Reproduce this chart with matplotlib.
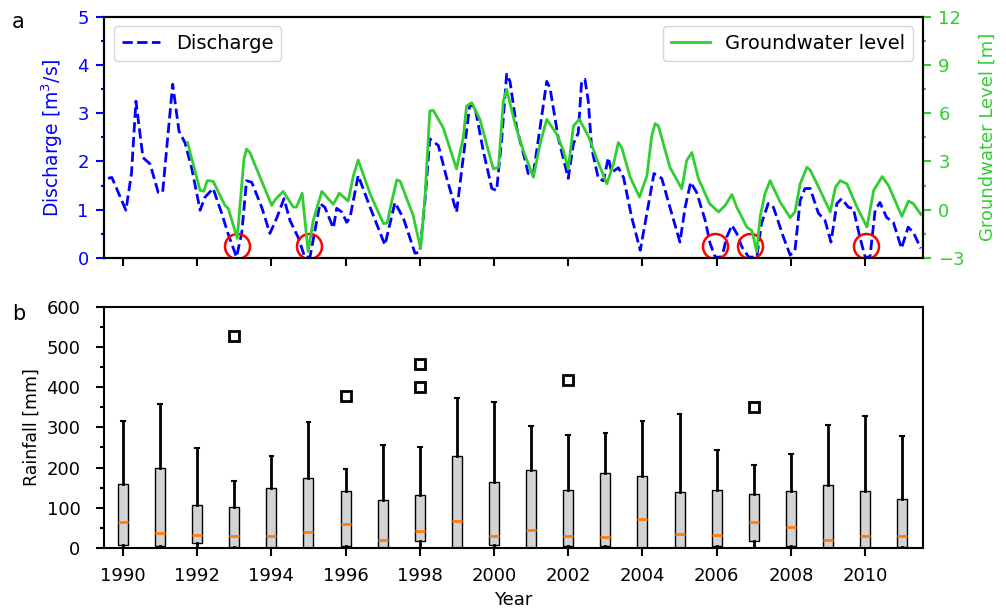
import numpy as np
import matplotlib
matplotlib.use("Agg")
from matplotlib import pyplot as plt

# discharge [m3/s]
q_t = [1989.6, 1989.7, 1990.08, 1990.23, 1990.35, 1990.54, 1990.73, 1990.95, 1991.07, 1991.18,
       1991.34, 1991.51, 1991.67, 1991.85, 1992.08, 1992.21, 1992.43, 1992.66, 1992.83, 1993.06,
       1993.2, 1993.33, 1993.47, 1993.74, 1993.96, 1994.14, 1994.34, 1994.5, 1994.72, 1994.9,
       1995.04, 1995.31, 1995.44, 1995.67, 1995.76, 1995.9, 1996.03, 1996.12, 1996.34, 1996.66,
       1997.06, 1997.33, 1997.56, 1997.87, 1998.0, 1998.14, 1998.27, 1998.5, 1998.72, 1998.99,
       1999.17, 1999.35, 1999.49, 1999.71, 1999.94, 2000.07, 2000.21, 2000.34, 2000.43, 2000.61,
       2000.84, 2000.92, 2001.06, 2001.24, 2001.42, 2001.51, 2001.73, 2002.0, 2002.14, 2002.27,
       2002.36, 2002.45, 2002.54, 2002.63, 2002.81, 2002.95, 2003.08, 2003.17, 2003.35, 2003.49,
       2003.71, 2003.94, 2004.12, 2004.31, 2004.52, 2004.74, 2005.01, 2005.15, 2005.3, 2005.46,
       2005.69, 2005.82, 2005.96, 2006.14, 2006.27, 2006.41, 2006.54, 2006.68, 2006.86, 2007.08,
       2007.21, 2007.39, 2007.53, 2007.8, 2007.98, 2008.11, 2008.25, 2008.38, 2008.52, 2008.74,
       2008.92, 2009.08, 2009.24, 2009.37, 2009.55, 2009.68, 2009.86, 2010.0, 2010.13, 2010.27,
       2010.4, 2010.58, 2010.76, 2010.98, 2011.16, 2011.3, 2011.5]
q_v = [1.65, 1.67, 0.99, 1.75, 3.25, 2.08, 1.95, 1.36, 1.36, 2.28,
       3.6, 2.63, 2.39, 1.87, 0.99, 1.26, 1.44, 0.93, 0.51, 0.02,
       0.51, 1.6, 1.57, 1.05, 0.51, 0.82, 1.23, 0.78, 0.43, 0.02,
       0.02, 1.13, 1.05, 0.62, 1.03, 0.95, 0.74, 0.84, 1.71, 1.05,
       0.27, 1.15, 0.82, 0.1, 0.12, 1.19, 2.47, 2.33, 1.67, 0.95,
       2.08, 3.19, 3.11, 2.22, 1.44, 1.4, 2.49, 3.81, 3.66, 2.7,
       2.02, 1.75, 1.75, 2.7, 3.66, 3.52, 2.49, 1.65, 2.37, 2.59,
       3.66, 3.7, 3.25, 2.28, 1.65, 1.6, 2.08, 1.77, 1.87, 1.67,
       0.84, 0.16, 0.93, 1.75, 1.65, 1.05, 0.33, 1.05, 1.57, 1.36,
       0.78, 0.31, 0.02, 0.02, 0.43, 0.68, 0.51, 0.23, 0.02, 0.02,
       0.72, 1.13, 1.05, 0.43, 0.06, 0.16, 1.19, 1.44, 1.44, 0.93,
       0.78, 0.33, 1.13, 1.23, 1.05, 1.03, 0.43, 0.02, 0.02, 0.99,
       1.15, 0.84, 0.74, 0.2, 0.64, 0.53, 0.2]

# groundwater level [m]
g_t = [1991.74, 1992.08, 1992.18, 1992.27, 1992.43, 1992.75, 1992.84, 1993.08, 1993.26, 1993.33,
       1993.42, 1994.01, 1994.1, 1994.32, 1994.59, 1994.68, 1994.83, 1994.99, 1995.13, 1995.36,
       1995.67, 1995.83, 1996.07, 1996.21, 1996.34, 1996.66, 1997.02, 1997.12, 1997.24, 1997.38,
       1997.47, 1997.82, 1998.02, 1998.14, 1998.27, 1998.36, 1998.63, 1998.99, 1999.17, 1999.26,
       1999.4, 1999.62, 1999.98, 2000.12, 2000.25, 2000.34, 2000.57, 2000.79, 2001.06, 2001.24,
       2001.42, 2001.69, 2001.87, 2002.0, 2002.14, 2002.3, 2002.54, 2002.77, 2003.04, 2003.22,
       2003.35, 2003.44, 2003.67, 2003.92, 2004.12, 2004.25, 2004.34, 2004.43, 2004.74, 2005.06,
       2005.19, 2005.33, 2005.51, 2005.81, 2006.05, 2006.23, 2006.41, 2006.54, 2006.81, 2006.95,
       2007.08, 2007.17, 2007.3, 2007.44, 2007.71, 2007.98, 2008.11, 2008.25, 2008.43, 2008.52,
       2008.79, 2009.06, 2009.2, 2009.33, 2009.51, 2009.78, 2010.05, 2010.23, 2010.46, 2010.63,
       2010.99, 2011.17, 2011.3, 2011.5]
g_v = [4.18, 1.2, 1.16, 1.81, 1.77, 0.27, 0.07, -1.78, 3.15, 3.77,
       3.56, 0.27, 0.62, 1.14, 0.17, 0.17, 1.03, -2.6, -0.65, 1.14,
       0.33, 1.03, 0.54, 2.12, 3.09, 0.99, -0.86, -0.82, 0.48, 1.86,
       1.77, -0.35, -2.4, 0.79, 6.14, 6.18, 5.1, 2.54, 4.49, 6.44,
       6.65, 5.62, 2.54, 2.64, 6.75, 7.48, 5.31, 3.67, 2.02, 4.08,
       5.62, 4.7, 3.67, 2.54, 5.21, 5.62, 4.59, 3.15, 1.61, 2.85,
       4.18, 3.87, 2.02, 0.79, 2.12, 4.59, 5.35, 5.21, 2.64, 1.3,
       3.05, 3.56, 1.92, 0.38, -0.14, 0.27, 0.95, 0.17, -1.07, -1.31,
       -2.61, -0.45, 0.99, 1.81, 0.48, -0.49, -0.14, 1.61, 2.64, 2.47,
       1.2, -0.14, 1.4, 1.81, 1.61, 0.17, -1.07, 1.2, 2.06, 1.51,
       -0.41, 0.54, 0.38, -0.28]

# low-flow events marked with red circles
low_t = [1993.07, 1995.01, 2005.96, 2006.9, 2010.03]
low_v = [0.25, 0.25, 0.25, 0.25, 0.25]

# rainfall box statistics per year [mm]
years = list(range(1990, 2012))
r_whislo = [0, 0, 0, 0, 0, 0, 0, 0, 0, 0, 0, 0, 0, 0, 0, 0, 0, 0, 0, 0, 0, 0]
r_q1 = [7.5, 6, 11.6, 3, 1, 0, 4, 1, 16.6, 0, 7.5, 0, 4, 4, 0, 0, 4, 17.4, 6, 0, 0, 3]
r_med = [64, 36.5, 31.5, 29, 29, 40.6, 59, 19, 41.5, 67, 30, 45.6, 30.7, 26.6, 71, 35.7,
         31.5, 65, 52, 21, 30, 30]
r_q3 = [158.5, 198, 107, 102, 148, 173.5, 143, 120, 132, 230, 165, 193, 144, 187, 180, 139,
        144, 135, 141, 157, 143, 121]
r_whishi = [317, 359, 249, 167, 228, 314, 197, 255, 252, 372, 363, 304, 282, 285, 317, 332,
            244, 207, 234, 305, 329, 278]
r_fliers = [[], [], [], [528], [], [], [379], [], [458, 401], [], [], [], [417], [], [], [],
            [], [351], [], [], [], []]

fig = plt.figure(figsize=(10.06, 6.13), dpi=100)
ax1 = fig.add_axes([0.1034, 0.5791, 0.8141, 0.3937])
ax2 = ax1.twinx()
ax3 = fig.add_axes([0.1034, 0.106, 0.8141, 0.3937])

blue = '#0000ff'
green = '#32cd32'
xlim = (1989.49, 2011.56)

ax1.plot(q_t, q_v, '--', color=blue, lw=2, label='Discharge')
ax1.plot(low_t, low_v, 'o', ms=18, mfc='none', mec='red', mew=1.8, zorder=5)
ax2.plot(g_t, g_v, '-', color=green, lw=2, label='Groundwater level')

ax1.set_xlim(*xlim)
ax1.set_ylim(0, 5)
ax2.set_ylim(-3, 12)
ax1.set_yticks(np.arange(0, 5.1, 1))
ax1.set_yticks(np.arange(0, 5.1, 0.5), minor=True)
ax2.set_yticks(np.arange(-3, 12.1, 3))
ax2.set_yticks(np.arange(-3, 12.1, 1.5), minor=True)
ax1.set_xticks(range(1990, 2011, 2))
ax1.set_xticklabels([])
ax1.set_ylabel('Discharge [m$^3$/s]', color=blue, fontsize=13.5, labelpad=9)
ax2.set_ylabel('Groundwater Level [m]', color=green, fontsize=13, labelpad=10)
ax1.tick_params(axis='y', which='both', colors=blue, labelsize=13, width=1.5, pad=5)
ax1.tick_params(axis='y', which='major', length=6)
ax2.tick_params(axis='y', which='both', colors=green, labelsize=13, width=1.5, pad=5)
ax2.tick_params(axis='y', which='major', length=6)
ax1.tick_params(axis='x', length=6, width=1.5)
for sp in ax1.spines.values():
    sp.set_linewidth(1.5)
for sp in ax2.spines.values():
    sp.set_linewidth(1.5)
ax1.legend(loc='upper left', fontsize=14)
ax2.legend(loc='upper right', fontsize=14)

stats = []
for i in range(len(years)):
    stats.append(dict(whislo=r_whislo[i], q1=r_q1[i], med=r_med[i], q3=r_q3[i],
                      whishi=r_whishi[i], fliers=r_fliers[i]))
ax3.bxp(stats, positions=years, widths=0.27, capwidths=0.1, patch_artist=True,
        boxprops=dict(facecolor='lightgrey', edgecolor='black', lw=1),
        whiskerprops=dict(color='black', lw=2),
        capprops=dict(color='black', lw=1.5),
        medianprops=dict(color='#ff7f0e', lw=2),
        flierprops=dict(marker='s', mfc='white', mec='black', ms=7, mew=2))
ax3.set_xlim(*xlim)
ax3.set_ylim(0, 600)
ax3.set_yticks(range(0, 601, 100))
ax3.set_yticks(range(0, 601, 50), minor=True)
ax3.set_xticks(range(1990, 2011, 2))
ax3.set_xticklabels([str(y) for y in range(1990, 2011, 2)])
ax3.tick_params(axis='both', which='major', labelsize=13, length=6, width=1.5)
ax3.tick_params(axis='x', which='major', pad=8)
ax3.tick_params(axis='y', which='major', pad=11)
ax3.tick_params(axis='y', which='minor', length=3, width=1.5)
ax3.set_ylabel('Rainfall [mm]', fontsize=12.5)
ax3.set_xlabel('Year', fontsize=13)
for sp in ax3.spines.values():
    sp.set_linewidth(1.5)

fig.text(0.012, 0.955, 'a', fontsize=15)
fig.text(0.012, 0.478, 'b', fontsize=15)

fig.savefig('out.png', dpi=100)
